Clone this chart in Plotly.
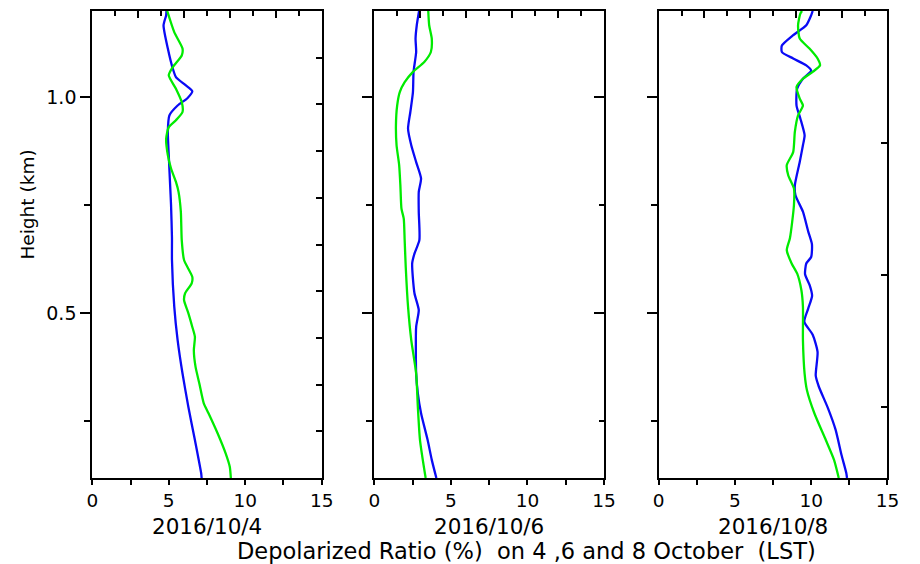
import plotly.graph_objects as go

# ---------------- data (height in km, depolarization ratio in %) ----------------
h_b1 = [1.2, 1.19, 1.167, 1.113, 1.067, 1.047, 1.028, 1.014, 0.998, 0.981, 0.958, 0.92, 0.866,
        0.804, 0.75, 0.674, 0.623, 0.515, 0.4375, 0.36, 0.283, 0.206, 0.129, 0.118]
v_b1 = [4.85, 4.83, 4.66, 4.94, 5.26, 5.47, 6.1, 6.54, 6.22, 5.58, 5.04, 4.94, 5.0,
        5.08, 5.15, 5.21, 5.21, 5.36, 5.58, 5.9, 6.28, 6.71, 7.12, 7.15]

h_g1 = [1.2, 1.151, 1.113, 1.097, 1.07, 1.051, 1.02, 0.989, 0.966, 0.947, 0.931, 0.904, 0.866,
        0.835, 0.804, 0.781, 0.735, 0.669, 0.623, 0.584, 0.569, 0.546, 0.53, 0.5, 0.468, 0.445,
        0.414, 0.376, 0.337, 0.291, 0.268, 0.221, 0.175, 0.144, 0.118]
v_g1 = [4.9, 5.36, 5.9, 5.85, 5.26, 5.0, 5.47, 5.85, 5.9, 5.47, 5.0, 4.83, 4.94,
        5.15, 5.47, 5.64, 5.79, 5.85, 6.0, 6.54, 6.5, 6.07, 6.0, 6.28, 6.54, 6.71,
        6.64, 6.75, 7.0, 7.29, 7.6, 8.2, 8.72, 8.99, 9.06]

h_b2 = [1.2, 1.167, 1.136, 1.105, 1.059, 1.012, 0.966, 0.927, 0.889, 0.85, 0.812, 0.781, 0.735,
        0.669, 0.638, 0.615, 0.546, 0.507, 0.468, 0.36, 0.314, 0.268, 0.206, 0.16, 0.118]
v_b2 = [2.92, 2.77, 2.69, 2.73, 2.56, 2.52, 2.35, 2.2, 2.41, 2.73, 3.05, 2.9, 2.9,
        2.94, 2.62, 2.47, 2.62, 2.9, 2.73, 2.73, 2.84, 3.05, 3.48, 3.75, 4.05]

h_g2 = [1.2, 1.167, 1.136, 1.105, 1.082, 1.059, 1.035, 1.012, 0.981, 0.935, 0.889, 0.843, 0.796,
        0.742, 0.719, 0.669, 0.607, 0.515, 0.4375, 0.36, 0.283, 0.206, 0.118]
v_g2 = [3.52, 3.58, 3.75, 3.69, 3.26, 2.52, 1.98, 1.66, 1.49, 1.41, 1.45, 1.62, 1.7,
        1.77, 1.92, 1.98, 2.05, 2.2, 2.41, 2.73, 2.84, 2.98, 3.35]

h_b3 = [1.2, 1.19, 1.167, 1.144, 1.12, 1.105, 1.09, 1.074, 1.062, 1.043, 1.02, 0.981, 0.951,
        0.912, 0.889, 0.85, 0.796, 0.773, 0.735, 0.69, 0.66, 0.63, 0.615, 0.59, 0.565, 0.54,
        0.51, 0.48, 0.45, 0.41, 0.355, 0.33, 0.28, 0.23, 0.17, 0.13, 0.118]
v_b3 = [10.1, 10.0, 9.68, 8.82, 8.08, 8.08, 8.82, 9.68, 10.0, 9.46, 9.08, 9.04, 9.29,
        9.57, 9.46, 9.25, 8.93, 8.97, 9.46, 9.8, 10.05, 10.0, 9.68, 9.6, 9.9, 10.06,
        9.8, 9.55, 10.1, 10.42, 10.3, 10.5, 11.1, 11.6, 12.0, 12.3, 12.35]

h_g3 = [1.2, 1.194, 1.167, 1.136, 1.113, 1.09, 1.074, 1.059, 1.043, 1.024, 0.997, 0.981, 0.958,
        0.92, 0.873, 0.843, 0.819, 0.789, 0.75, 0.674, 0.646, 0.615, 0.592, 0.553, 0.515,
        0.4375, 0.36, 0.322, 0.268, 0.206, 0.16, 0.118]
v_g3 = [9.4, 9.29, 9.14, 9.25, 9.89, 10.42, 10.58, 10.1, 9.46, 9.04, 9.25, 9.46, 9.14,
        8.93, 8.82, 8.4, 8.5, 8.87, 8.87, 8.61, 8.4, 8.72, 9.08, 9.36, 9.46,
        9.46, 9.57, 9.72, 10.21, 10.96, 11.5, 11.81]

panel_titles = ["2016/10/4", "2016/10/6", "2016/10/8"]
x_ticks = [0, 5, 10, 15]
y_ticks = [0.5, 1.0]

# ---------------- style ----------------
BLUE = "rgb(10,10,245)"
GREEN = "rgb(0,235,0)"
FONT = "DejaVu Sans, Verdana, sans-serif"
W, H = 920, 564
XR = [0, 15]
YR = [0.118, 1.2]
x_dom = [(88, 322), (375.7, 610), (665.7, 899)]
y_dom = (1 - 478 / H, 1 - 11 / H)

series = [((h_b1, v_b1), (h_g1, v_g1)),
          ((h_b2, v_b2), (h_g2, v_g2)),
          ((h_b3, v_b3), (h_g3, v_g3))]

# right-axis tick sets (mimic the original figure's differing right axes)
span = YR[1] - YR[0]
right_ticks = [
    dict(tickvals=[YR[0] + span * k / 10 for k in range(1, 10)], ticklen=6, minor=None),
    dict(tickvals=[0.5, 1.0], ticklen=10, minor=[0.25, 0.75]),
    dict(tickvals=[YR[1] - 0.3056 * k for k in range(1, 4)], ticklen=6, minor=None),
]

fig = go.Figure()
layout = dict(width=W, height=H, margin=dict(l=0, r=0, t=0, b=0),
              paper_bgcolor="white", plot_bgcolor="white", showlegend=False,
              font=dict(family=FONT, color="black", size=18))

axline = dict(showline=True, linecolor="black", linewidth=2, showgrid=False, zeroline=False,
              fixedrange=True)

for i in range(3):
    n = i + 1
    xs = "" if n == 1 else str(n)
    (hb, vb), (hg, vg) = series[i]
    fig.add_trace(go.Scatter(x=vb, y=hb, mode="lines",
                             line=dict(color=BLUE, width=2.3, shape="spline", smoothing=0.6),
                             xaxis="x" + xs, yaxis="y" + xs, hoverinfo="skip"))
    fig.add_trace(go.Scatter(x=vg, y=hg, mode="lines",
                             line=dict(color=GREEN, width=2.3, shape="spline", smoothing=0.6),
                             xaxis="x" + xs, yaxis="y" + xs, hoverinfo="skip"))
    dom = [x_dom[i][0] / W, x_dom[i][1] / W]
    # bottom axis
    layout["xaxis" + xs] = dict(axline, domain=dom, range=XR, anchor="y" + xs, side="bottom",
                                ticks="outside", ticklen=5, tickwidth=2, tickcolor="black",
                                tickvals=x_ticks, tickfont=dict(size=18.5, family=FONT),
                                ticklabelstandoff=0,
                                minor=dict(tickvals=[2.5, 7.5, 12.5], ticklen=5, tickwidth=2,
                                           ticks="outside", tickcolor="black"))
    # left axis
    layout["yaxis" + xs] = dict(axline, domain=list(y_dom), range=YR, anchor="x" + xs,
                                side="left", ticks="outside", ticklen=10, tickwidth=2,
                                tickcolor="black", tickvals=y_ticks, tickformat=".1f",
                                showticklabels=(i == 0), tickfont=dict(size=19, family=FONT),
                                minor=dict(tickvals=[0.25, 0.75], ticklen=6, tickwidth=2,
                                           ticks="outside", tickcolor="black"))
    # top axis overlay
    tn = str(n + 3)
    layout["xaxis" + tn] = dict(axline, overlaying="x" + xs, range=XR, anchor="y" + xs,
                                side="top", ticks="inside", ticklen=7, tickwidth=2,
                                tickcolor="black", tickvals=[3, 6, 9, 12],
                                showticklabels=False,
                                minor=dict(tickvals=[1.5, 4.5, 7.5, 10.5, 13.5], ticklen=5,
                                           tickwidth=2, ticks="inside", tickcolor="black"))
    # right axis overlay
    rt = right_ticks[i]
    ry = dict(axline, overlaying="y" + xs, range=YR, anchor="x" + xs, side="right",
              ticks="inside", ticklen=rt["ticklen"], tickwidth=2, tickcolor="black",
              tickvals=rt["tickvals"], showticklabels=False)
    if rt["minor"]:
        ry["minor"] = dict(tickvals=rt["minor"], ticklen=5, tickwidth=2, ticks="inside",
                           tickcolor="black")
    layout["yaxis" + tn] = ry
    # empty carrier trace so overlay axes are drawn
    fig.add_trace(go.Scatter(x=[None], y=[None], xaxis="x" + tn, yaxis="y" + tn,
                             hoverinfo="skip", showlegend=False))

annotations = []
for i, t in enumerate(panel_titles):
    cx = (x_dom[i][0] + x_dom[i][1]) / 2 / W
    annotations.append(dict(text=t, x=cx, y=1 - 526 / H, xref="paper", yref="paper",
                            showarrow=False, font=dict(size=21.5, family=FONT),
                            xanchor="center", yanchor="middle"))
annotations.append(dict(text="Depolarized Ratio (%)  on 4 ,6 and 8 October  (LST)",
                        x=531 / W, y=1 - 551 / H, xref="paper", yref="paper",
                        showarrow=False, font=dict(size=22.5, family=FONT),
                        xanchor="center", yanchor="middle"))
annotations.append(dict(text="Height (km)", x=22 / W, y=1 - 205 / H, xref="paper",
                        yref="paper", showarrow=False, textangle=-90,
                        font=dict(size=18.5, family=FONT), xanchor="center", yanchor="middle"))
layout["annotations"] = annotations

fig.update_layout(**layout)
fig.write_html("out.html")
